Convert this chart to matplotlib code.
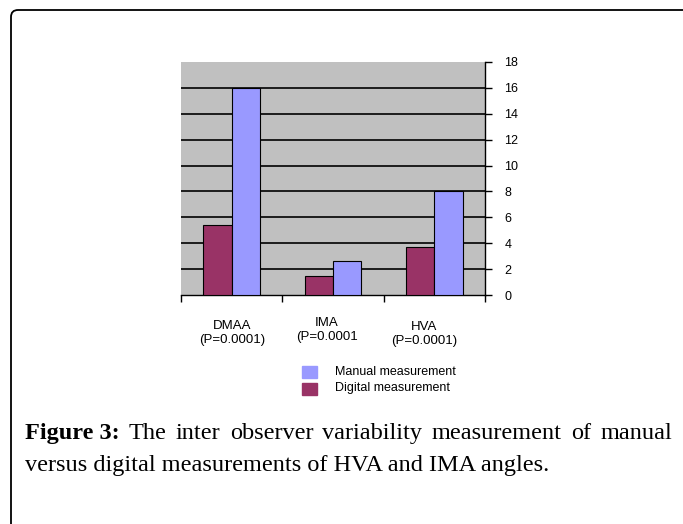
import matplotlib
matplotlib.use('Agg')
import matplotlib.pyplot as plt
import numpy as np
from matplotlib.patches import PathPatch, Rectangle
from matplotlib.path import Path

# data
groups = ['DMAA\n(P=0.0001)', 'IMA\n(P=0.0001', 'HVA\n(P=0.0001)']
digital = [5.4, 1.5, 3.7]
manual = [16, 2.6, 8]
yticks = [0, 2, 4, 6, 8, 10, 12, 14, 16, 18]
legend_labels = ['Manual measurement', 'Digital measurement']
caption_bold = 'Figure 3:'
caption_line1 = 'The inter observer variability measurement of manual'
caption_line2 = 'versus digital measurements of HVA and IMA angles.'

c_manual = '#9999ff'
c_digital = '#993366'

W, H = 683, 524
fig = plt.figure(figsize=(W / 100, H / 100), dpi=100)

def fx(px):
    return px / W

def fy(py):
    return 1 - py / H

# outer frame, only top and left edges visible (rounded corner)
r = 7
verts = [(fx(11), fy(H + 5)), (fx(11), fy(10 + r)), (fx(11), fy(10)),
         (fx(11 + r), fy(10)), (fx(W + 5), fy(10))]
codes = [Path.MOVETO, Path.LINETO, Path.CURVE3, Path.CURVE3, Path.LINETO]
fig.patches.append(PathPatch(Path(verts, codes), transform=fig.transFigure,
                             fill=False, lw=1.3, edgecolor='black'))

ax = fig.add_axes([fx(181), fy(295), (485 - 181) / W, (295 - 62) / H])
ax.set_facecolor('#c0c0c0')
x = np.arange(len(groups))
bw = 0.28
ax.bar(x - bw / 2, digital, bw, color=c_digital, edgecolor='black', lw=0.8, zorder=3)
ax.bar(x + bw / 2, manual, bw, color=c_manual, edgecolor='black', lw=0.8, zorder=3)
ax.set_xlim(-0.5, 2.5)
ax.set_ylim(0, 18)
for v in yticks[1:-1]:
    ax.axhline(v, color='black', lw=1.2, zorder=1)

for s in ['left', 'top']:
    ax.spines[s].set_visible(False)
ax.spines['right'].set_linewidth(1.0)
ax.spines['bottom'].set_linewidth(1.0)
ax.yaxis.tick_right()
ax.set_yticks(yticks)
ax.tick_params(axis='y', direction='out', length=5, width=1, pad=9,
               labelsize=9)
for t in ax.get_yticklabels():
    t.set_fontfamily('Liberation Sans')
ax.set_xticks([-0.5, 0.5, 1.5, 2.5])
ax.set_xticklabels([])
ax.tick_params(axis='x', direction='out', length=5, width=1)

# category labels
lab_pos = [(232, 333), (327, 330), (424, 334)]
for (px, py), g in zip(lab_pos, groups):
    fig.text(fx(px), fy(py), g, ha='center', va='center', fontsize=9.5,
             family='Liberation Sans', linespacing=1.15)

# legend
for i, (lab, c) in enumerate(zip(legend_labels, [c_manual, c_digital])):
    yc = 372 + i * 16.5
    fig.patches.append(Rectangle((fx(302), fy(yc + 6)), 15 / W, 12 / H,
                                 transform=fig.transFigure, color=c))
    fig.text(fx(335), fy(yc), lab, ha='left', va='center', fontsize=9,
             family='Liberation Sans')

# caption, first line justified
fig.canvas.draw()
rend = fig.canvas.get_renderer()
fs = 17.5
serif = 'Liberation Serif'

def width(s, bold=False):
    t = fig.text(0, 0, s, fontsize=fs, family=serif,
                 weight='bold' if bold else 'normal')
    w = t.get_window_extent(rend).width
    t.remove()
    return w

words = [caption_bold] + caption_line1.split()
ws = [width(w, i == 0) for i, w in enumerate(words)]
x0, x1 = 25, 672
gap = (x1 - x0 - sum(ws)) / (len(words) - 1)
cx = x0
for i, (w, wd) in enumerate(zip(words, ws)):
    fig.text(fx(cx), fy(439), w, fontsize=fs, family=serif,
             weight='bold' if i == 0 else 'normal', va='baseline', ha='left')
    cx += wd + gap
fig.text(fx(x0), fy(471), caption_line2, fontsize=fs, family=serif,
         va='baseline', ha='left')

fig.savefig('out.png', dpi=100)
